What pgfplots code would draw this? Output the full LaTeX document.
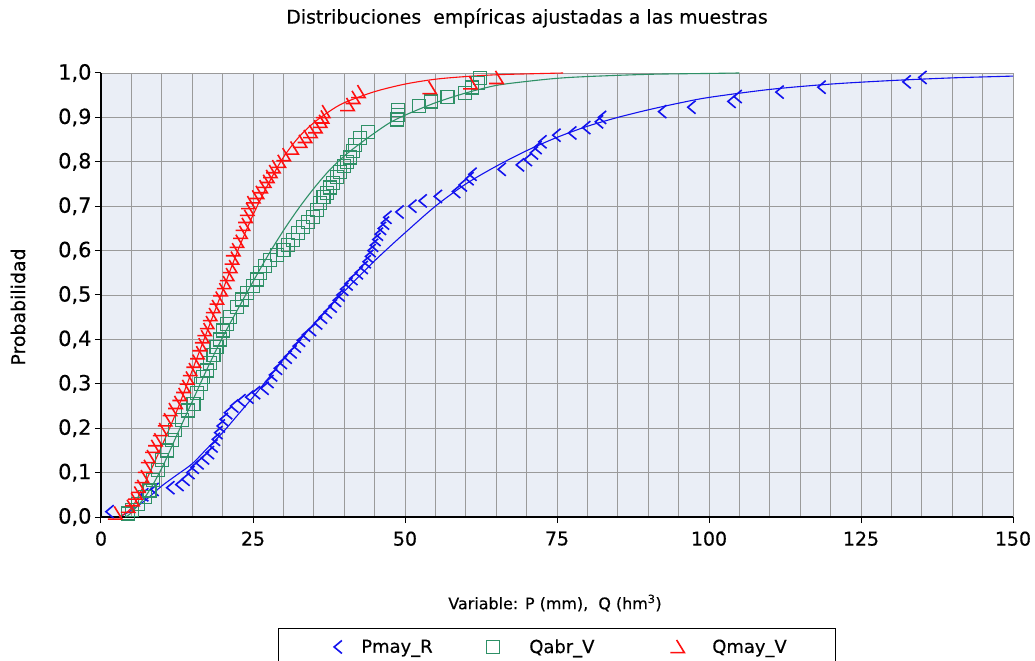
\documentclass[border=0pt]{standalone}
\usepackage{pgfplots}
\pgfplotsset{compat=1.18}
\usepackage{fontspec}
\setmainfont{DejaVu Sans}[FakeBold=0.4]
\definecolor{bgcol}{HTML}{EAEEF6}
\definecolor{gridcol}{HTML}{9A9A9A}
\definecolor{pblue}{HTML}{1212EE}
\definecolor{qgreen}{HTML}{2E9066}
\definecolor{qred}{HTML}{FF1010}

% open chevron, as in the legend of Pmay_R
\pgfdeclareplotmark{chev}{%
  \pgfpathmoveto{\pgfqpoint{0.55\pgfplotmarksize}{\pgfplotmarksize}}%
  \pgfpathlineto{\pgfqpoint{-0.65\pgfplotmarksize}{0pt}}%
  \pgfpathlineto{\pgfqpoint{0.55\pgfplotmarksize}{-\pgfplotmarksize}}%
  \pgfusepathqstroke}
% half triangle, as in the legend of Qmay_V
\pgfdeclareplotmark{hook}{%
  \pgfpathmoveto{\pgfqpoint{-\pgfplotmarksize}{-0.8\pgfplotmarksize}}%
  \pgfpathlineto{\pgfqpoint{\pgfplotmarksize}{-0.8\pgfplotmarksize}}%
  \pgfpathlineto{\pgfqpoint{-0.1\pgfplotmarksize}{\pgfplotmarksize}}%
  \pgfusepathqstroke}

% legend images: one mark, with room on either side
\pgfplotsset{
  legfirst/.style={legend image code/.code={\path[draw=none,fill=none] (-46bp,-6bp) rectangle (8bp,6bp);
      \draw[##1] plot coordinates {(0bp,0bp)};}},
  leggreen/.style={legend image code/.code={\path[draw=none,fill=none] (-8bp,-6bp) rectangle (21bp,6bp);
      \draw[##1] plot coordinates {(0bp,0bp)};}},
  legred/.style={legend image code/.code={\path[draw=none,fill=none] (-8bp,-6bp) rectangle (20bp,6bp);
      \draw[##1] plot coordinates {(0bp,0bp)};}},
}

\begin{document}
\begin{tikzpicture}
\begin{axis}[
    scale only axis,
    width=912bp, height=444bp,
    xmin=0, xmax=150, ymin=0, ymax=1,
    clip=false,
    axis background/.style={fill=bgcol},
    axis x line*=bottom, axis y line*=left,
    axis line style={black, line width=1.5bp, -},
    xtick={0,25,...,150},
    minor xtick={5,10,...,145},
    ytick={0,0.1,0.2,0.3,0.4,0.5,0.6,0.7,0.8,0.9,1},
    grid=both,
    major grid style={gridcol, line width=0.9bp},
    minor grid style={gridcol, line width=0.9bp},
    tick align=outside,
    major tick length=6bp, minor tick length=0pt,
    tick style={black, line width=1bp},
    /pgf/number format/assume math mode=true,
    ticklabel style={font=\fontsize{19}{23}\selectfont},
    xticklabel style={yshift=-5bp},
    yticklabel style={font=\fontsize{21}{25}\selectfont, /pgf/number format/.cd, fixed, fixed zerofill, precision=1, use comma},
    legend columns=3,
    legend style={at={(0.194,-0.25)}, anchor=north west, draw=black, line width=0.8bp,
        font=\fontsize{18}{22}\selectfont, inner xsep=14bp, inner ysep=9bp,
        nodes={inner xsep=6bp},
        /tikz/every odd column/.append style={column sep=9bp},
        /tikz/every even column/.append style={column sep=0bp}},
]
% fitted distributions
\addplot[pblue, line width=1.1bp, smooth, forget plot] coordinates {
(3,0) (5,0.015) (7.5,0.04) (10,0.07) (12.5,0.095) (15,0.12) (17.5,0.155) (20,0.19)
(22.5,0.23) (25,0.27) (27.5,0.312) (30,0.355) (32.5,0.395) (35,0.435) (37.5,0.472)
(40,0.508) (42.5,0.543) (45,0.577) (47.5,0.609) (50,0.64) (55,0.70) (60,0.75)
(65,0.79) (70,0.825) (75,0.855) (80,0.88) (85,0.9) (90,0.917) (95,0.932) (100,0.945)
(110,0.963) (120,0.975) (130,0.983) (140,0.989) (150,0.993)};
\addplot[pblue, only marks, mark=chev, mark size=6.5bp, line width=1.6bp, legfirst] coordinates {
(1.5,0.012) (7.2,0.05) (8.9,0.062) (11.5,0.066) (13,0.073) (14,0.085) (14.8,0.1)
(15.5,0.112) (16.3,0.122) (17.2,0.133) (18,0.145) (18.6,0.16) (19,0.175) (19.4,0.19)
(19.8,0.205) (20.3,0.22) (21,0.235) (22,0.25) (23.2,0.262) (24.5,0.27) (25.6,0.28)
(27,0.29) (27.8,0.305) (28.4,0.32) (29.2,0.335) (30,0.348) (30.8,0.36) (31.6,0.372)
(32.3,0.385) (33,0.398) (33.8,0.41) (34.8,0.422) (35.8,0.437) (36.6,0.45) (37.4,0.462)
(38.2,0.475) (38.9,0.488) (39.5,0.5) (40.1,0.513) (40.8,0.525) (41.6,0.537) (42.5,0.55)
(43.3,0.562) (43.8,0.575) (44.2,0.587) (44.6,0.6) (45,0.612) (45.4,0.625) (45.8,0.637)
(46.3,0.65) (46.8,0.662) (47.2,0.675) (49.2,0.687) (51.3,0.7) (53,0.712) (55.5,0.722)
(58.5,0.733) (59.6,0.748) (60.7,0.762) (61.2,0.772) (66,0.783) (69,0.793) (70.3,0.805)
(71.3,0.82) (71.9,0.832) (72.7,0.845) (75,0.86) (77.6,0.865) (79.9,0.877) (82,0.89)
(82.5,0.9) (92.4,0.913) (97.2,0.923) (103.8,0.936) (104.8,0.947) (111.7,0.957)
(118.6,0.968) (132.6,0.98) (135.2,0.99)};
\addlegendentry{\makebox[118bp][l]{Pmay\_R}}
\addplot[qgreen, line width=1.1bp, smooth, forget plot] coordinates {
(4,0) (5,0.01) (7.5,0.05) (10,0.11) (12.5,0.185) (15,0.26) (17.5,0.335) (20,0.405)
(22.5,0.468) (25,0.53) (27.5,0.59) (30,0.645) (32.5,0.695) (35,0.74) (37.5,0.78)
(40,0.813) (42.5,0.84) (45,0.865) (47.5,0.888) (50,0.905) (55,0.933) (60,0.955)
(65,0.972) (70,0.981) (75,0.988) (80,0.992) (90,0.997) (100,0.999) (105,1)};
\addplot[qgreen, only marks, mark=square, mark size=6.5bp, line width=1.3bp, leggreen] coordinates {
(4.4,0.008) (5.1,0.015) (6.1,0.03) (7.2,0.045) (8,0.06) (8.6,0.083) (9.4,0.106)
(10,0.128) (10.9,0.15) (11.7,0.173) (12.2,0.196) (13.3,0.218) (14.3,0.24) (15.2,0.255)
(15.8,0.28) (16.5,0.3) (16.8,0.315) (17.4,0.33) (17.9,0.347) (18.5,0.365) (19,0.383)
(19.6,0.4) (20.1,0.42) (20.7,0.435) (21.2,0.45) (22.4,0.473) (23.2,0.49) (24,0.505)
(25,0.52) (25.7,0.535) (26.2,0.55) (27,0.565) (27.8,0.579) (29,0.59) (30,0.601)
(30.8,0.612) (31.6,0.624) (32.4,0.64) (33.2,0.653) (34.1,0.665) (34.9,0.676)
(35.5,0.692) (36,0.707) (36.6,0.72) (37.2,0.73) (37.7,0.742) (38.2,0.752) (38.8,0.765)
(39.3,0.777) (40,0.79) (40.5,0.8) (41,0.81) (41.5,0.825) (41.8,0.838) (42.6,0.853)
(43.9,0.867) (48.7,0.895) (48.8,0.906) (48.9,0.917) (52.3,0.926) (54.3,0.936)
(57,0.946) (59.9,0.955) (61,0.967) (62,0.978) (62.3,0.989)};
\addlegendentry{\makebox[134bp][l]{Qabr\_V}}
\addplot[qred, line width=1.1bp, smooth, forget plot] coordinates {
(3,0) (5,0.02) (7,0.07) (10,0.16) (12.5,0.24) (15,0.33) (17.5,0.42) (20,0.51)
(22.5,0.6) (25,0.68) (27.5,0.75) (30,0.81) (32.5,0.855) (35,0.888) (37.5,0.913)
(40,0.933) (45,0.958) (50,0.975) (55,0.986) (60,0.992) (65,0.996) (70,0.998) (76,1)};
\addplot[qred, only marks, mark=hook, mark size=7bp, line width=1.6bp, legred] coordinates {
(2.3,0.008) (4.4,0.023) (5.1,0.038) (5.6,0.053) (6.1,0.068) (6.7,0.09) (7.2,0.113)
(7.7,0.135) (8.4,0.158) (8.9,0.173) (9.7,0.196) (10.5,0.218) (11.3,0.241) (12.2,0.257)
(12.9,0.275) (13.5,0.293) (14.1,0.312) (14.6,0.331) (15.2,0.35) (15.8,0.369)
(16.2,0.387) (16.6,0.405) (17,0.421) (17.4,0.437) (17.9,0.455) (18.4,0.473) (19,0.492)
(19.6,0.511) (20.2,0.527) (20.7,0.545) (21.2,0.563) (21.5,0.582) (21.7,0.601)
(22.3,0.62) (22.9,0.64) (23.3,0.658) (23.7,0.676) (24,0.692) (24.2,0.707) (25,0.72)
(25.6,0.73) (26.2,0.743) (26.8,0.755) (27.3,0.766) (27.8,0.777) (28.3,0.788) (29.2,0.8)
(30,0.815) (31.3,0.83) (32.7,0.845) (33.5,0.856) (34.4,0.867) (35.2,0.878) (36,0.89)
(36.3,0.9) (36.5,0.912) (40.5,0.928) (41.4,0.944) (42.3,0.957) (54,0.966) (60.7,0.977)
(65,0.989)};
\addlegendentry{\makebox[103bp][l]{Qmay\_V}}
\end{axis}
\node[font=\fontsize{19}{23}\selectfont] at (426bp,499bp) {Distribuciones\ \ empíricas ajustadas a las muestras};
\node[font=\fontsize{19}{23}\selectfont, rotate=90] at (-83bp,210bp) {Probabilidad};
\node[font=\fontsize{16}{20}\selectfont] at (454bp,-86bp) {Variable: P (mm),\ \ Q (hm\textsuperscript{3})};
\pgfresetboundingbox
\useasboundingbox (-101bp,-144bp) rectangle (934bp,517bp);
\end{tikzpicture}
\end{document}
